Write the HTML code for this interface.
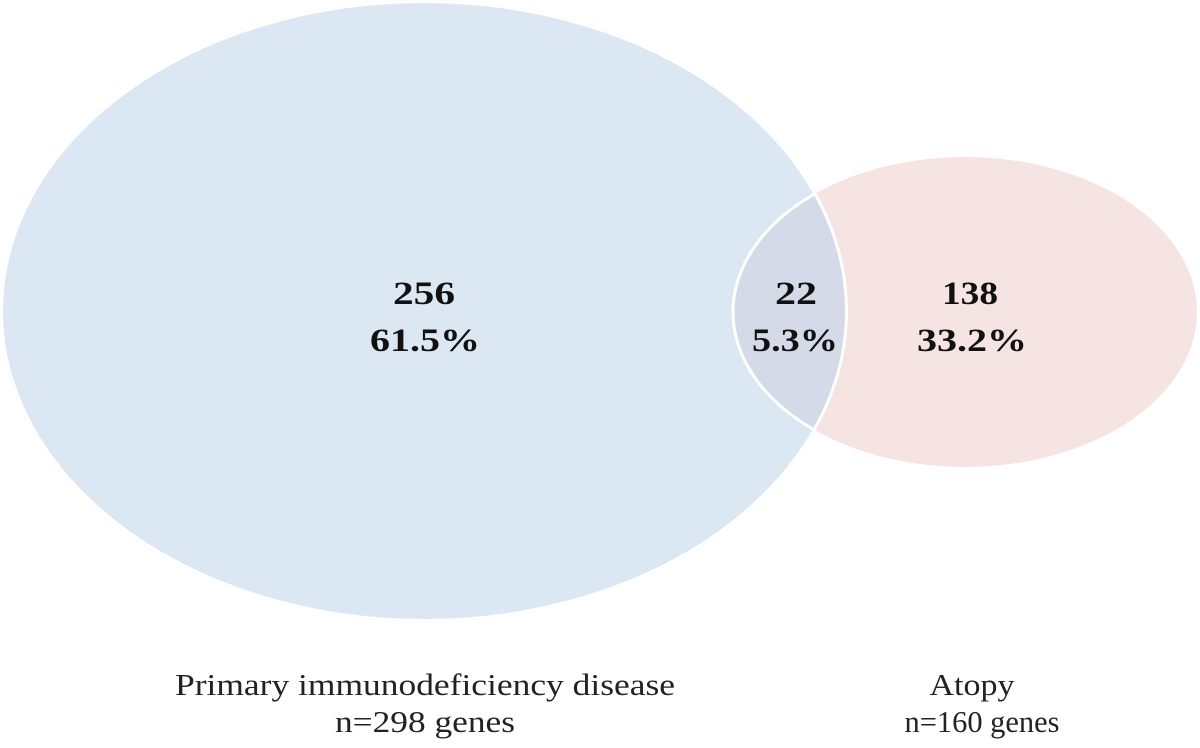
<!DOCTYPE html>
<html><head><style>html,body{margin:0;padding:0;background:#fff;width:1200px;height:748px;overflow:hidden}</style></head>
<body>
<svg width="1200" height="748" xmlns="http://www.w3.org/2000/svg" font-family="Liberation Serif, serif">
<defs><clipPath id="c"><ellipse cx="424" cy="311" rx="424" ry="311"/></clipPath></defs>
<ellipse cx="424" cy="311" rx="424" ry="311" fill="#dce7f4"/>
<ellipse cx="965" cy="312" rx="232" ry="155" fill="#f6e4e2"/>
<ellipse cx="965" cy="312" rx="232" ry="155" fill="#d5dae8" clip-path="url(#c)"/>
<ellipse cx="965" cy="312" rx="232" ry="155" fill="none" stroke="#fff" stroke-width="3" clip-path="url(#c)"/>
<g clip-path="url(#c)"><ellipse cx="424" cy="311" rx="424" ry="311" fill="none" stroke="#fff" stroke-width="6"/></g>
<g font-weight="bold" font-size="33" fill="#111" text-anchor="middle" lengthAdjust="spacingAndGlyphs">
<text x="424" y="304" textLength="62" lengthAdjust="spacingAndGlyphs">256</text>
<text x="425" y="351" textLength="110" lengthAdjust="spacingAndGlyphs">61.5%</text>
<text x="796" y="304" textLength="42" lengthAdjust="spacingAndGlyphs">22</text>
<text x="795" y="351" textLength="86" lengthAdjust="spacingAndGlyphs">5.3%</text>
<text x="970" y="304" textLength="56" lengthAdjust="spacingAndGlyphs">138</text>
<text x="972" y="351" textLength="110" lengthAdjust="spacingAndGlyphs">33.2%</text>
</g>
<g font-size="31" fill="#222" text-anchor="middle">
<text x="425" y="695" textLength="500" lengthAdjust="spacingAndGlyphs">Primary immunodeficiency disease</text>
<text x="425" y="732" textLength="180" lengthAdjust="spacingAndGlyphs">n=298 genes</text>
<text x="972" y="695" textLength="85" lengthAdjust="spacingAndGlyphs">Atopy</text>
<text x="982" y="732" textLength="155" lengthAdjust="spacingAndGlyphs">n=160 genes</text>
</g>
</svg>
</body></html>
